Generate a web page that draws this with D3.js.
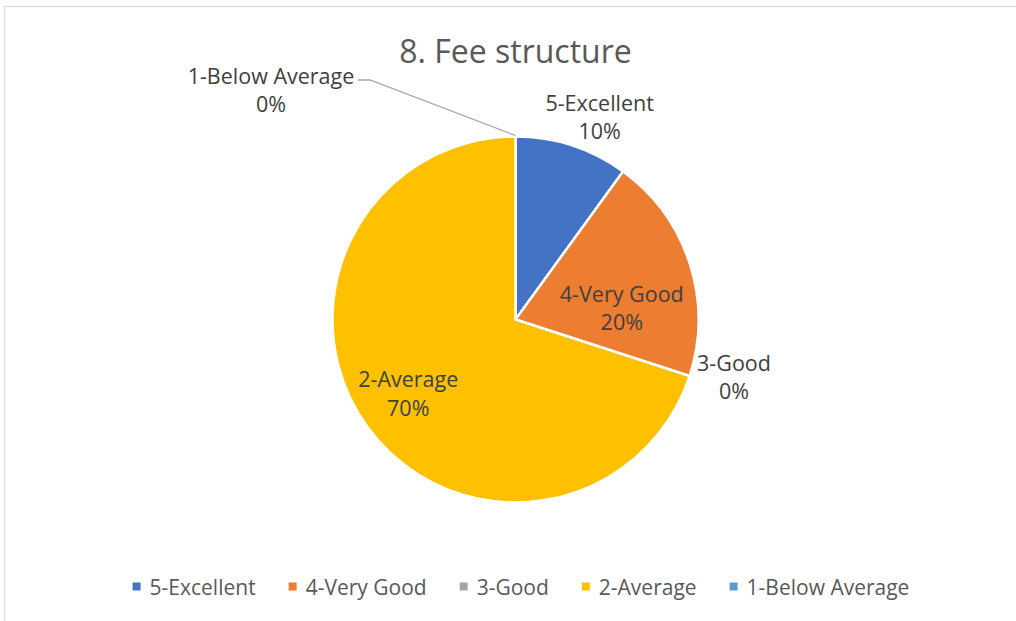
<!DOCTYPE html>
<html>
<head>
<meta charset="utf-8">
<script src="https://cdn.jsdelivr.net/npm/d3@7"></script>
<style>
  html, body { margin: 0; padding: 0; background: #fff; }
  svg { display: block; }
  text { font-family: "Open Sans", Lato, sans-serif; }
</style>
</head>
<body>
<svg id="chart" width="1016" height="621"></svg>
<script>
// Survey answers for "Fee structure"
const categories = ["5-Excellent", "4-Very Good", "3-Good", "2-Average", "1-Below Average"];
const percentages = [10, 20, 0, 70, 0];
const colors = ["#4472C4", "#ED7D31", "#A5A5A5", "#FFC000", "#5B9BD5"];
const title = "8. Fee structure";

const W = 1016, H = 621;
const cx = 515.5, cy = 319.5, R = 183;

const svg = d3.select("#chart");

// chart-area frame
svg.append("rect")
  .attr("x", 4.5).attr("y", 6.5)
  .attr("width", W + 20).attr("height", H + 20)
  .attr("fill", "#fff")
  .attr("stroke", "#d9d9d9").attr("stroke-width", 1.2);

svg.append("text")
  .attr("x", cx).attr("y", 63)
  .attr("text-anchor", "middle")
  .attr("font-size", 32)
  .attr("fill", "#595959")
  .text(title);

const data = categories.map((c, i) => ({ name: c, value: percentages[i], color: colors[i] }));

const pie = d3.pie().sort(null).value(d => d.value);
const arcs = pie(data);
const arc = d3.arc().innerRadius(0).outerRadius(R);

const g = svg.append("g").attr("transform", `translate(${cx},${cy})`);

g.selectAll("path.slice")
  .data(arcs.filter(a => a.data.value > 0))
  .join("path")
  .attr("class", "slice")
  .attr("d", arc)
  .attr("fill", d => d.data.color)
  .attr("stroke", "#fff")
  .attr("stroke-width", 2.5)
  .attr("stroke-linejoin", "round");

// label placement: polar position (degrees clockwise from 12 o'clock, distance from centre)
const labelPlacement = {
  "5-Excellent":     { angle: 22.5,  dist: 220 },
  "4-Very Good":     { angle: 83.3,  dist: 107 },
  "3-Good":          { angle: 104.5, dist: 225.7 },
  "2-Average":       { angle: 235.6, dist: 130 },
  "1-Below Average": { angle: 313.3, dist: 336 }
};

const labels = g.selectAll("g.label")
  .data(arcs)
  .join("g")
  .attr("class", "label")
  .attr("transform", d => {
    const p = labelPlacement[d.data.name];
    const a = p.angle * Math.PI / 180;
    return `translate(${p.dist * Math.sin(a)},${-p.dist * Math.cos(a)})`;
  });

labels.append("text")
  .attr("text-anchor", "middle")
  .attr("y", -5.5)
  .attr("font-size", 21.5)
  .attr("fill", "#404040")
  .text(d => d.data.name);

labels.append("text")
  .attr("text-anchor", "middle")
  .attr("y", 23)
  .attr("font-size", 21.5)
  .attr("fill", "#404040")
  .text(d => d3.format(".0%")(d.data.value / 100));

// leader line for the zero slice at the top
const topArc = arcs[arcs.length - 1];
const start = [Math.sin(topArc.endAngle) * (R + 1), -Math.cos(topArc.endAngle) * (R + 1)];
g.append("polyline")
  .attr("points", [start, [-145.5, -239.5], [-157.5, -239.5]].map(p => p.join(",")).join(" "))
  .attr("fill", "none")
  .attr("stroke", "#a6a6a6")
  .attr("stroke-width", 1.3);

// legend
const legend = svg.append("g").attr("transform", "translate(0,595)");
const items = legend.selectAll("g.item")
  .data(data)
  .join("g")
  .attr("class", "item");

items.append("rect")
  .attr("width", 8).attr("height", 8)
  .attr("y", -12.5)
  .attr("fill", d => d.color);

items.append("text")
  .attr("x", 17)
  .attr("y", 0)
  .attr("font-size", 21)
  .attr("fill", "#595959")
  .text(d => d.name);

// lay out legend entries in a centred row
const gap = 33;
const widths = [];
items.each(function () { widths.push(this.getBBox().width); });
const total = d3.sum(widths) + gap * (widths.length - 1);
let x = cx + 5.5 - total / 2;
items.attr("transform", (d, i) => {
  const t = `translate(${x},0)`;
  x += widths[i] + gap;
  return t;
});
</script>
</body>
</html>
